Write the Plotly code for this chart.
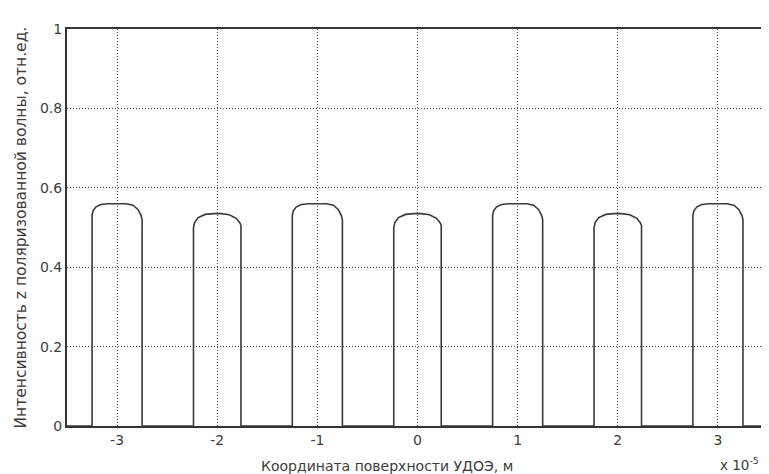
import plotly.graph_objects as go

# x in units of 1e-5 m, y = intensity (relative units)
x_ticks = [-3, -2, -1, 0, 1, 2, 3]
x_tick_labels = ["-3", "-2", "-1", "0", "1", "2", "3"]
y_ticks = [0, 0.2, 0.4, 0.6, 0.8, 1]
y_tick_labels = ["0", "0.2", "0.4", "0.6", "0.8", "1"]

pulse_x = [
    [-3.25, -3.25, -3.24, -3.21, -3.16, -3.09, -2.91, -2.84, -2.79, -2.76, -2.75, -2.75],
    [-2.237, -2.237, -2.225, -2.19, -2.12, -2.04, -1.96, -1.88, -1.81, -1.775, -1.763, -1.763],
    [-1.25, -1.25, -1.24, -1.21, -1.16, -1.09, -0.91, -0.84, -0.79, -0.76, -0.75, -0.75],
    [-0.237, -0.237, -0.225, -0.19, -0.12, -0.04, 0.04, 0.12, 0.19, 0.225, 0.237, 0.237],
    [0.75, 0.75, 0.76, 0.79, 0.84, 0.91, 1.09, 1.16, 1.21, 1.24, 1.25, 1.25],
    [1.763, 1.763, 1.775, 1.81, 1.88, 1.96, 2.04, 2.12, 2.19, 2.225, 2.237, 2.237],
    [2.75, 2.75, 2.76, 2.79, 2.84, 2.91, 3.09, 3.16, 3.21, 3.24, 3.25, 3.25],
]
pulse_y = [
    [0, 0.53, 0.542, 0.552, 0.558, 0.56, 0.56, 0.556, 0.545, 0.53, 0.52, 0],
    [0, 0.50, 0.513, 0.525, 0.533, 0.535, 0.535, 0.532, 0.523, 0.512, 0.505, 0],
    [0, 0.53, 0.542, 0.552, 0.558, 0.56, 0.56, 0.556, 0.545, 0.53, 0.52, 0],
    [0, 0.50, 0.513, 0.525, 0.533, 0.535, 0.535, 0.532, 0.523, 0.512, 0.505, 0],
    [0, 0.53, 0.542, 0.552, 0.558, 0.56, 0.56, 0.556, 0.545, 0.53, 0.52, 0],
    [0, 0.50, 0.513, 0.525, 0.533, 0.535, 0.535, 0.532, 0.523, 0.512, 0.505, 0],
    [0, 0.53, 0.542, 0.552, 0.558, 0.56, 0.56, 0.556, 0.545, 0.53, 0.52, 0],
]
x_start, x_end = -3.5, 3.5

xs = [x_start]
ys = [0]
for px, py in zip(pulse_x, pulse_y):
    xs += px
    ys += py
xs.append(x_end)
ys.append(0)

fig = go.Figure()
fig.add_trace(go.Scatter(x=xs, y=ys, mode="lines",
                         line=dict(color="#3a3a3a", width=1.6),
                         showlegend=False, hoverinfo="skip"))

font = dict(family="DejaVu Sans, Arial, sans-serif", size=14, color="#3c3c3c")
ylabel_font = dict(family="DejaVu Sans, Arial, sans-serif", size=15.5, color="#3c3c3c")
exp_font = dict(family="DejaVu Sans, Arial, sans-serif", size=13.5, color="#3c3c3c")
grid_dash = "1px,2px"

fig.update_layout(
    width=761, height=466,
    margin=dict(l=59, r=1, t=21, b=48),
    paper_bgcolor="white", plot_bgcolor="white",
    font=font,
    xaxis=dict(range=[x_start, x_end], tickvals=x_ticks, ticktext=x_tick_labels,
               showgrid=True, gridcolor="#444444", griddash=grid_dash, gridwidth=1,
               showline=True, linecolor="#333333", linewidth=2, mirror=True,
               zeroline=False, ticks="", tickfont=font),
    yaxis=dict(range=[0, 1], tickvals=y_ticks, ticktext=y_tick_labels,
               showgrid=True, gridcolor="#444444", griddash=grid_dash, gridwidth=1,
               showline=True, linecolor="#333333", linewidth=2, mirror=False,
               zeroline=False, ticks="", tickfont=font),
    annotations=[
        dict(text="Координата поверхности УДОЭ, м", xref="paper", yref="paper",
             x=0.4565, y=-0.1, showarrow=False, xanchor="center", yanchor="middle",
             font=font),
        dict(text="x 10<sup>-5</sup>", xref="paper", yref="paper",
             x=0.96, y=-0.095, showarrow=False, xanchor="center", yanchor="middle",
             font=exp_font),
        dict(text="Интенсивность z поляризованной волны, отн.ед.", xref="paper", yref="paper",
             x=-0.067, y=0.5, showarrow=False, textangle=-90,
             xanchor="center", yanchor="middle", font=ylabel_font),
    ],
)

fig.write_html("out.html")
